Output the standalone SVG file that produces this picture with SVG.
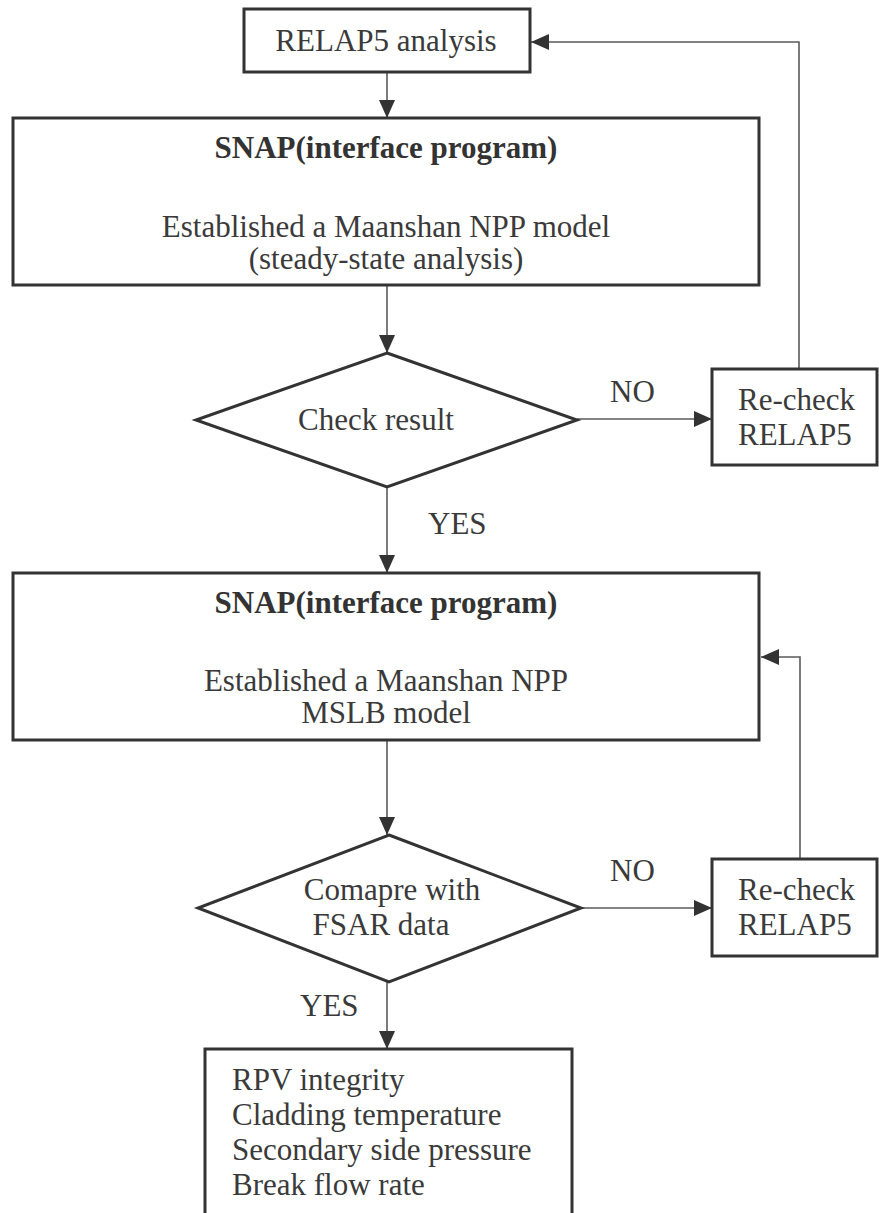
<svg xmlns="http://www.w3.org/2000/svg" width="879" height="1213" viewBox="0 0 879 1213" font-family="Liberation Serif, Times New Roman, DejaVu Serif, serif">
<style>
.box{fill:#fff;stroke:#333;stroke-width:3}
text{font-family:'Liberation Serif','Times New Roman','DejaVu Serif',serif;font-size:31px;fill:#3a3a3a}
.b{font-weight:bold;fill:#333}
.c{text-anchor:middle}
.ln{fill:none;stroke:#5a5a5a;stroke-width:1.6}
</style>
<defs>
<marker id="ah" markerUnits="userSpaceOnUse" markerWidth="18" markerHeight="16" refX="18" refY="8" orient="auto">
<path d="M0,0 L18,8 L0,16 Z" fill="#333"/>
</marker>
</defs>
<rect width="879" height="1213" fill="#fff"/>
<g id="connectors">
<line class="ln" x1="387" y1="72" x2="387" y2="118" marker-end="url(#ah)"/>
<line class="ln" x1="387" y1="285" x2="387" y2="353" marker-end="url(#ah)"/>
<line class="ln" x1="577" y1="419" x2="712" y2="419" marker-end="url(#ah)"/>
<polyline class="ln" points="799,369 799,42 531,42" marker-end="url(#ah)"/>
<line class="ln" x1="387" y1="487" x2="387" y2="573" marker-end="url(#ah)"/>
<line class="ln" x1="387" y1="740" x2="387" y2="835" marker-end="url(#ah)"/>
<line class="ln" x1="581" y1="908" x2="712" y2="908" marker-end="url(#ah)"/>
<polyline class="ln" points="800,859 800,657 761,657" marker-end="url(#ah)"/>
<line class="ln" x1="387" y1="982" x2="387" y2="1049" marker-end="url(#ah)"/>
<text x="610" y="402">NO</text>
<text x="428" y="534">YES</text>
<text x="610" y="881">NO</text>
<text x="300" y="1016">YES</text>
</g>
<g id="relap5-analysis">
<rect class="box" x="244" y="9" width="286" height="63"/>
<text class="c" x="386" y="51">RELAP5 analysis</text>
</g>
<g id="snap-steady">
<rect class="box" x="13" y="118" width="746" height="167"/>
<text class="b c" x="386" y="158">SNAP(interface program)</text>
<text class="c" x="386" y="237">Established a Maanshan  NPP model</text>
<text class="c" x="386" y="269">(steady-state analysis)</text>
</g>
<g id="check-result">
<polygon class="box" points="387,353 577,420 387,487 196,420"/>
<text class="c" x="376" y="430">Check result</text>
</g>
<g id="recheck-1">
<rect class="box" x="712" y="369" width="165" height="96"/>
<text x="738" y="410">Re-check</text>
<text x="738" y="445">RELAP5</text>
</g>
<g id="snap-mslb">
<rect class="box" x="13" y="573" width="746" height="167"/>
<text class="b c" x="386" y="613">SNAP(interface program)</text>
<text class="c" x="386" y="691">Established a Maanshan NPP</text>
<text class="c" x="386" y="723">MSLB model</text>
</g>
<g id="compare-fsar">
<polygon class="box" points="389,835 581,908 389,982 198,908"/>
<text class="c" x="392" y="900">Comapre with</text>
<text class="c" x="381" y="935">FSAR data</text>
</g>
<g id="recheck-2">
<rect class="box" x="712" y="859" width="165" height="97"/>
<text x="738" y="900">Re-check</text>
<text x="738" y="935">RELAP5</text>
</g>
<g id="results">
<rect class="box" x="205" y="1049" width="367" height="180"/>
<text x="232" y="1090">RPV integrity</text>
<text x="232" y="1125">Cladding temperature</text>
<text x="232" y="1160">Secondary side pressure</text>
<text x="232" y="1195">Break flow rate</text>
</g>
</svg>
